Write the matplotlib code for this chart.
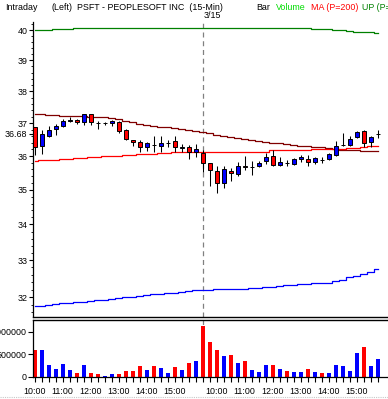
import numpy as np
import matplotlib
matplotlib.use("Agg")
import matplotlib.pyplot as plt
from matplotlib.ticker import FixedLocator, NullFormatter

# 15-min bars, 3/14 10:00 -> 3/15 15:45
opens = [36.88, 36.30, 36.62, 36.81, 36.91, 37.07, 37.10, 37.03, 37.28, 37.02,
         37.00, 37.00, 37.03, 36.79, 36.50, 36.42, 36.26, 36.35, 36.30, 36.40,
         36.45, 36.25, 36.26, 36.13, 36.08, 35.79, 35.56, 35.21, 35.56, 35.46,
         35.69, 35.67, 35.69, 35.84, 36.00, 35.74, 35.80, 35.76, 35.90, 35.90,
         35.81, 35.89, 35.90, 36.03, 36.33, 36.35, 36.59, 36.76, 36.44, 36.66]
highs = [36.90, 36.79, 36.91, 36.97, 37.12, 37.19, 37.14, 37.28, 37.30, 37.06,
         37.04, 37.10, 37.08, 36.82, 36.50, 36.49, 36.44, 36.62, 36.62, 36.50,
         36.62, 36.37, 36.35, 36.37, 36.18, 35.79, 35.70, 35.69, 35.64, 35.82,
         36.00, 35.84, 35.84, 36.08, 36.18, 35.98, 35.88, 35.93, 36.03, 36.03,
         35.96, 35.96, 36.10, 36.45, 36.69, 36.62, 36.76, 36.79, 36.62, 36.79]
lows = [36.03, 36.06, 36.59, 36.65, 36.89, 37.03, 36.98, 36.96, 36.96, 36.83,
        36.95, 36.92, 36.71, 36.49, 36.32, 36.11, 36.15, 36.13, 36.13, 36.26,
        36.13, 36.13, 35.90, 35.98, 35.52, 35.12, 34.92, 35.05, 35.25, 35.42,
        35.59, 35.45, 35.67, 35.76, 35.69, 35.69, 35.69, 35.74, 35.83, 35.71,
        35.76, 35.79, 35.88, 36.00, 36.32, 36.32, 36.55, 36.27, 36.29, 36.55]
closes = [36.26, 36.67, 36.79, 36.93, 37.06, 37.10, 37.03, 37.28, 37.04, 37.00,
          37.01, 37.06, 36.76, 36.52, 36.44, 36.26, 36.41, 36.33, 36.40, 36.41,
          36.26, 36.26, 36.13, 36.21, 35.79, 35.59, 35.21, 35.62, 35.50, 35.71,
          35.68, 35.68, 35.79, 35.98, 35.72, 35.82, 35.79, 35.90, 35.98, 35.83,
          35.93, 35.88, 36.06, 36.32, 36.35, 36.52, 36.74, 36.39, 36.59, 36.68]
volumes = [607000, 593000, 259000, 185000, 281000, 163000, 96000, 259000, 96000, 74000,
           30000, 74000, 74000, 141000, 141000, 252000, 163000, 252000, 207000, 96000,
           230000, 163000, 319000, 363000, 1126000, 763000, 607000, 474000, 496000, 304000,
           363000, 163000, 119000, 274000, 274000, 185000, 141000, 119000, 119000, 185000,
           119000, 96000, 96000, 274000, 252000, 141000, 541000, 674000, 252000, 407000]

up_band = [39.99, 39.99, 39.99, 40.02, 40.02, 40.02] + [40.06] * 34 + \
          [40.02, 40.02, 40.02, 39.99, 39.99, 39.96, 39.93, 39.93, 39.93, 39.90]
ma_slow = [37.28, 37.28, 37.27, 37.26, 37.24, 37.24, 37.23, 37.22, 37.21, 37.20,
           37.19, 37.16, 37.13, 37.08, 37.03, 36.99, 36.96, 36.93, 36.90, 36.88,
           36.85, 36.82, 36.79, 36.76, 36.72, 36.69, 36.65, 36.62, 36.59, 36.56,
           36.53, 36.50, 36.46, 36.44, 36.41, 36.39, 36.37, 36.35, 36.32, 36.30,
           36.28, 36.26, 36.24, 36.22, 36.19, 36.18, 36.17, 36.16, 36.16, 36.16]
ma_200 = [35.86, 35.87, 35.88, 35.89, 35.90, 35.91, 35.93, 35.94, 35.96, 35.97,
          35.99, 36.00, 36.01, 36.03, 36.04, 36.05, 36.06, 36.07, 36.09, 36.10,
          36.11, 36.12, 36.12, 36.13] + [36.13] * 10 + [36.17] * 6 + \
         [36.20] * 5 + [36.25, 36.25, 36.29, 36.31, 36.31]
lp_band = [31.75, 31.77, 31.79, 31.81, 31.83, 31.84, 31.86, 31.88, 31.89, 31.92,
           31.93, 31.95, 31.97, 31.99, 32.01, 32.03, 32.06, 32.07, 32.08, 32.10,
           32.12, 32.14, 32.16, 32.18, 32.20, 32.20, 32.21, 32.21, 32.21, 32.22,
           32.22, 32.23, 32.24, 32.26, 32.27, 32.29, 32.31, 32.33, 32.35, 32.36,
           32.37, 32.38, 32.39, 32.42, 32.46, 32.53, 32.58, 32.63, 32.68, 32.75]

tick_idx = [0, 4, 8, 12, 16, 20, 26, 30, 34, 38, 42, 46]
tick_labels = ["10:00", "11:00", "12:00", "13:00", "14:00", "15:00",
               "10:00", "11:00", "12:00", "13:00", "14:00", "15:00"]
day_break = 24
last_price = 36.68

W, H = 388, 399
fig = plt.figure(figsize=(W / 100, H / 100), dpi=100)
plt.rcParams['font.family'] = ['Liberation Sans', 'DejaVu Sans']
fs = 6.4


def box(x0, y0, x1, y1):
    return [x0 / W, 1 - y1 / H, (x1 - x0) / W, (y1 - y0) / H]


ax = fig.add_axes(box(33, 22, 388, 317))
axv = fig.add_axes(box(33, 320, 388, 377))

x = np.arange(len(opens))
o = np.array(opens)
c = np.array(closes)
up = c >= o
colors = np.where(up, "#0000ff", "#ff0000")

# price panel
ax.plot(x, up_band, color="#008000", lw=0.9, drawstyle="steps-mid")
ax.plot(x, ma_slow, color="#800000", lw=0.9, drawstyle="steps-mid")
ax.plot(x, ma_200, color="#ff0000", lw=0.9, drawstyle="steps-mid")
ax.plot(x, lp_band, color="#0000ff", lw=0.9, drawstyle="steps-mid")
ax.vlines(x, lows, highs, color="black", lw=0.75, zorder=3)
bottom = np.minimum(o, c)
height = np.maximum(np.abs(c - o), 0.004)
ax.bar(x, height, bottom=bottom, width=0.62, color=colors,
       edgecolor="black", linewidth=0.7, zorder=4)
ax.axvline(day_break, color="#808080", lw=0.9, ls=(0, (4, 3)), zorder=1)

ax.set_yscale("log")
ax.set_ylim(31.47, 40.27)
ax.set_xlim(-0.24, 50.47)
yt = [32, 33, 34, 35, 36, 37, 38, 39, 40, last_price]
ax.yaxis.set_major_locator(FixedLocator(yt))
ax.yaxis.set_minor_locator(FixedLocator(np.arange(31.6, 40.3, 0.2)))
ax.yaxis.set_minor_formatter(NullFormatter())
ax.set_yticklabels([str(v) for v in yt[:-1]] + ["36.68"])
ax.tick_params(axis="y", which="major", length=3, width=0.8, labelsize=fs, pad=1)
ax.tick_params(axis="y", which="minor", length=1.5, width=0.6)
ax.set_xticks([])
for s in ["top", "right"]:
    ax.spines[s].set_visible(False)
ax.spines["left"].set_linewidth(0.9)
ax.spines["bottom"].set_linewidth(1.0)

# volume panel
axv.bar(x, volumes, width=0.62, color=colors, linewidth=0)
axv.axvline(day_break, color="#808080", lw=0.9, ls=(0, (4, 3)), zorder=0)
axv.set_xlim(-0.24, 50.47)
axv.set_ylim(0, 1260000)
axv.set_yticks([0, 500000, 1000000])
axv.set_yticklabels(["0", "500000", "1000000"])
axv.set_xticks(tick_idx)
axv.set_xticklabels(tick_labels)
axv.set_xticks(x, minor=True)
axv.tick_params(axis="both", which="major", length=3.5, width=0.8, labelsize=fs, pad=1)
axv.tick_params(axis="x", which="major", pad=4)
axv.tick_params(axis="x", which="minor", length=3.5, width=0.8)
for s in ["right"]:
    axv.spines[s].set_visible(False)
axv.spines["top"].set_linewidth(1.0)
axv.spines["left"].set_linewidth(0.9)
axv.spines["bottom"].set_linewidth(0.9)

# header texts
hy = 1 - 7 / H
fig.text(5 / W, hy, "Intraday", fontsize=fs, va="center")
fig.text(51 / W, hy, "(Left)", fontsize=fs, va="center")
fig.text(77 / W, hy, "PSFT - PEOPLESOFT INC  (15-Min)", fontsize=fs, va="center")
fig.text(256 / W, hy, "Bar", fontsize=fs, va="center")
fig.text(276 / W, hy, "Volume", fontsize=fs, va="center", color="#00dd00")
fig.text(311 / W, hy, "MA (P=200)", fontsize=fs, va="center", color="#ff0000")
fig.text(362 / W, hy, "UP (P=20)", fontsize=fs, va="center", color="#008000")
fig.text(204 / W, 1 - 15 / H, "3/15", fontsize=fs, va="center")

fig.add_artist(plt.Line2D([0, 1], [1 - 397 / H] * 2, color="#c8c8c8",
                          lw=0.8, ls=(0, (1, 1))))

fig.savefig("out.png", dpi=100)
